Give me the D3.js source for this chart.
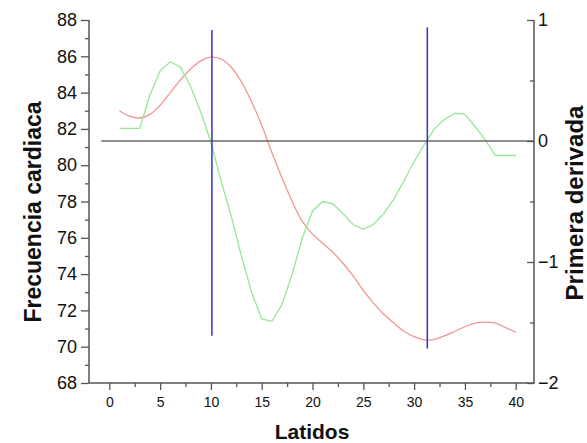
<!DOCTYPE html>
<html>
<head>
<meta charset="utf-8">
<script src="https://cdn.jsdelivr.net/npm/d3@7"></script>
<style>
  html, body { margin: 0; padding: 0; background: #ffffff; }
  svg { display: block; }
  text { font-family: "Liberation Sans", Arial, sans-serif; fill: #111; }
</style>
</head>
<body>
<svg id="chart" width="587" height="443"></svg>
<script>
// Beat index (Latidos)
const beats = d3.range(1, 41);

// Heart rate per beat (left axis)
const heartRate = [
  83.0, 82.7, 82.6, 82.8, 83.3, 84.0, 84.7, 85.3, 85.75, 85.95,
  85.85, 85.4, 84.6, 83.5, 82.2, 80.7, 79.3, 78.0, 76.9, 76.2,
  75.7, 75.2, 74.6, 73.9, 73.1, 72.4, 71.8, 71.3, 70.85, 70.55,
  70.38, 70.4, 70.6, 70.85, 71.1, 71.3, 71.35, 71.3, 71.05, 70.8
];

// First derivative of the heart rate (right axis)
const derivative = [
  0.105, 0.105, 0.105, 0.38, 0.58, 0.655, 0.61, 0.45, 0.24, -0.01,
  -0.33, -0.62, -0.95, -1.25, -1.47, -1.49, -1.35, -1.10, -0.80, -0.58,
  -0.50, -0.52, -0.60, -0.69, -0.73, -0.69, -0.60, -0.48, -0.33, -0.17,
  -0.03, 0.10, 0.18, 0.23, 0.22, 0.12, 0.01, -0.12, -0.12, -0.12
];

// Zero crossings of the derivative (vertical markers), with their extent in heart-rate units
const markerX = [10.1, 31.3];
const markerTop = [87.45, 87.6];
const markerBottom = [70.6, 69.9];

// Derivative zero reference line extent
const zeroLineStart = -0.8;

// Tick values
const xMajor = [0, 5, 10, 15, 20, 25, 30, 35, 40];
const xMinor = [2.5, 7.5, 12.5, 17.5, 22.5, 27.5, 32.5, 37.5];
const yLeftMajor = [68, 70, 72, 74, 76, 78, 80, 82, 84, 86, 88];
const yLeftMinor = [69, 71, 73, 75, 77, 79, 81, 83, 85, 87];
const yRightMajor = [-2, -1, 0, 1];
const yRightMinor = [-1.5, -0.5, 0.5];

const svg = d3.select("#chart");
const plotLeft = 89, plotRight = 534, plotTop = 20, plotBottom = 383;

const x = d3.scaleLinear().domain([-2, 41.8]).range([plotLeft, plotRight]);
const yL = d3.scaleLinear().domain([68, 88]).range([plotBottom, plotTop]);
const yR = d3.scaleLinear().domain([-2, 1]).range([plotBottom, plotTop]);

const axisColor = "#555";

// Curves
const hrLine = d3.line()
  .x((d, i) => x(beats[i]))
  .y(d => yL(d))
  .curve(d3.curveCatmullRom);
const derLine = d3.line()
  .x((d, i) => x(beats[i]))
  .y(d => yR(d));

svg.append("path")
  .attr("d", hrLine(heartRate))
  .attr("fill", "none")
  .attr("stroke", "#f29595")
  .attr("stroke-width", 1.3);

svg.append("path")
  .attr("d", derLine(derivative))
  .attr("fill", "none")
  .attr("stroke", "#95e895")
  .attr("stroke-width", 1.3);

// Zero reference line of the derivative
svg.append("line")
  .attr("x1", x(zeroLineStart)).attr("x2", x(41.8))
  .attr("y1", yR(0)).attr("y2", yR(0))
  .attr("stroke", "#6a6a6a")
  .attr("stroke-width", 1.5);

// Vertical markers at the derivative zero crossings
svg.selectAll("line.marker")
  .data(markerX)
  .join("line")
  .attr("class", "marker")
  .attr("x1", d => x(d)).attr("x2", d => x(d))
  .attr("y1", (d, i) => yL(markerTop[i]))
  .attr("y2", (d, i) => yL(markerBottom[i]))
  .attr("stroke", "#3434c8")
  .attr("stroke-width", 1.5);

// Left axis
const gL = svg.append("g").attr("transform", `translate(${plotLeft},0)`);
gL.call(d3.axisLeft(yL).tickValues(yLeftMajor).tickSize(8).tickPadding(4).tickFormat(d3.format("d")));
gL.append("g").call(d3.axisLeft(yL).tickValues(yLeftMinor).tickSize(4).tickFormat(""));
gL.selectAll("text").style("font-size", "18px").attr("fill", "#222");

// Right axis (ticks drawn inward, labels outside)
const gR = svg.append("g").attr("transform", `translate(${plotRight},0)`);
gR.call(d3.axisLeft(yR).tickValues(yRightMajor).tickSize(7).tickFormat(""));
gR.append("g").call(d3.axisLeft(yR).tickValues(yRightMinor).tickSize(4).tickFormat(""));
gR.selectAll("text").remove();
gR.selectAll("text.rlabel")
  .data(yRightMajor)
  .join("text")
  .attr("class", "rlabel")
  .attr("x", 4)
  .attr("y", d => yR(d))
  .attr("dy", "0.35em")
  .attr("text-anchor", "start")
  .style("font-size", "18px")
  .attr("fill", "#222")
  .text(d => d3.format("d")(d));

// Bottom axis
const gB = svg.append("g").attr("transform", `translate(0,${plotBottom})`);
gB.call(d3.axisBottom(x).tickValues(xMajor).tickSize(7).tickPadding(7).tickFormat(d3.format("d")));
gB.append("g").call(d3.axisBottom(x).tickValues(xMinor).tickSize(4).tickFormat(""));
gB.selectAll("text").style("font-size", "14px").attr("fill", "#222");

// Axis styling
svg.selectAll(".domain").remove();
svg.selectAll(".tick line").attr("stroke", axisColor).attr("stroke-width", 1.3);
svg.append("path")
  .attr("d", `M${plotLeft},${plotTop}V${plotBottom}H${plotRight}V${plotTop}`)
  .attr("fill", "none")
  .attr("stroke", axisColor)
  .attr("stroke-width", 1.5);

// Axis titles
svg.append("text")
  .attr("transform", `translate(41,212) rotate(-90)`)
  .attr("text-anchor", "middle")
  .style("font-size", "23px")
  .style("font-weight", "bold")
  .text("Frecuencia cardiaca");

svg.append("text")
  .attr("x", 312).attr("y", 439)
  .attr("text-anchor", "middle")
  .style("font-size", "21px")
  .style("font-weight", "bold")
  .text("Latidos");

svg.append("text")
  .attr("transform", `translate(583,203) rotate(-90)`)
  .attr("text-anchor", "middle")
  .style("font-size", "24px")
  .style("font-weight", "bold")
  .text("Primera derivada");
</script>
</body>
</html>
